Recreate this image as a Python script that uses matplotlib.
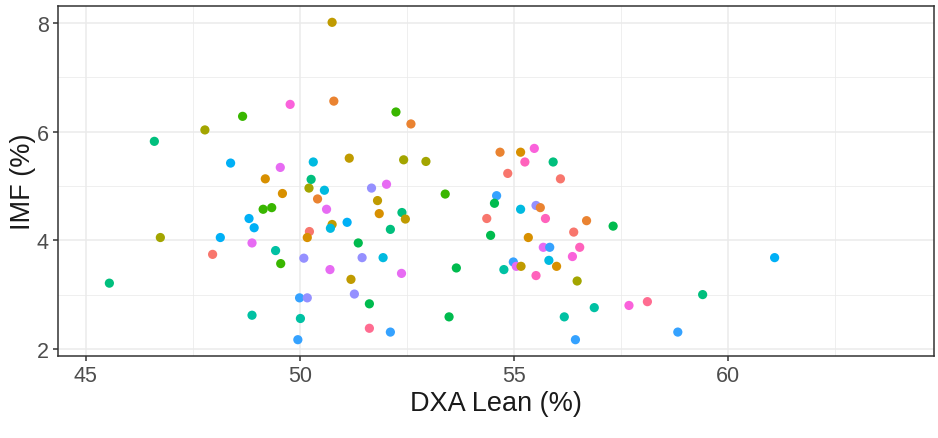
import matplotlib
matplotlib.use("Agg")
import matplotlib.pyplot as plt
from matplotlib.ticker import MultipleLocator

plt.rcParams['font.family'] = ['Liberation Sans', 'DejaVu Sans']

# ggplot hue palette, 20 groups
palette = ["#F8766D", "#EA8331", "#D89000", "#C09B00", "#A3A500",
           "#7CAE00", "#39B600", "#00BB4E", "#00BF7D", "#00C1A3",
           "#00BFC4", "#00BAE0", "#00B0F6", "#35A2FF", "#9590FF",
           "#C77CFF", "#E76BF3", "#FA62DB", "#FF62BC", "#FF6C91"]

lean = [45.55, 46.60, 46.74, 47.78, 47.96, 48.14, 48.38, 48.66, 48.81, 48.93,
        48.88, 49.14, 49.34, 49.19, 49.59, 49.54, 49.77, 49.43, 49.55, 48.88,
        49.99, 50.17, 50.01, 49.95, 50.09, 50.22, 50.17, 50.41, 50.21, 50.26,
        50.31, 50.75, 50.79, 51.15, 50.57, 50.62, 50.75, 50.71, 51.10, 51.67,
        52.02, 51.81, 51.85, 52.24, 52.59, 52.42, 52.94, 52.38, 52.46, 52.11,
        51.36, 51.45, 51.94, 50.70, 52.37, 51.19, 51.27, 51.62, 51.62, 52.11,
        53.39, 53.65, 53.48, 54.59, 54.54, 54.36, 54.45, 54.76, 54.67, 55.15,
        55.47, 55.25, 55.91, 54.85, 56.08, 55.15, 55.51, 55.61, 55.73, 56.69,
        57.31, 55.33, 56.39, 55.68, 55.83, 56.53, 56.36, 55.81, 54.98, 55.05,
        55.16, 55.99, 55.51, 56.47, 56.87, 56.17, 56.43, 57.68, 58.11, 58.82,
        59.40, 61.08]

imf = [3.21, 5.82, 4.05, 6.03, 3.74, 4.05, 5.42, 6.28, 4.40, 4.23,
       3.95, 4.57, 4.60, 5.13, 4.86, 5.34, 6.50, 3.81, 3.57, 2.62,
       2.94, 2.94, 2.56, 2.17, 3.67, 4.16, 4.05, 4.76, 4.96, 5.12,
       5.44, 8.01, 6.56, 5.51, 4.92, 4.57, 4.29, 4.22, 4.33, 4.96,
       5.03, 4.73, 4.49, 6.36, 6.14, 5.48, 5.45, 4.51, 4.39, 4.20,
       3.95, 3.68, 3.68, 3.46, 3.39, 3.28, 3.01, 2.83, 2.38, 2.31,
       4.85, 3.49, 2.59, 4.82, 4.68, 4.40, 4.09, 3.46, 5.62, 5.62,
       5.69, 5.44, 5.44, 5.23, 5.13, 4.57, 4.64, 4.60, 4.40, 4.36,
       4.26, 4.05, 4.15, 3.87, 3.87, 3.87, 3.70, 3.63, 3.60, 3.52,
       3.52, 3.52, 3.35, 3.25, 2.76, 2.59, 2.17, 2.80, 2.87, 2.31,
       3.00, 3.68]

group = [8, 8, 4, 4, 0, 12, 12, 6, 12, 12,
         16, 6, 6, 2, 2, 16, 17, 9, 6, 9,
         13, 14, 9, 13, 14, 0, 2, 1, 4, 8,
         11, 3, 1, 3, 11, 16, 3, 11, 12, 14,
         16, 3, 2, 6, 1, 4, 4, 8, 3, 8,
         7, 14, 11, 16, 16, 3, 14, 7, 19, 13,
         6, 7, 7, 13, 7, 0, 7, 9, 1, 2,
         17, 18, 8, 0, 0, 11, 14, 1, 18, 1,
         7, 2, 0, 16, 13, 18, 17, 11, 13, 16,
         3, 2, 18, 4, 9, 9, 13, 17, 19, 13,
         8, 12]

fig = plt.figure(figsize=(9.38, 4.39), dpi=100)
ax = fig.add_axes([0.0618, 0.1868, 0.9339, 0.7972])

ax.scatter(lean, imf, c=[palette[g] for g in group], s=44, linewidths=0, zorder=3)

ax.set_xlim(44.35, 64.8)
ax.set_ylim(1.87, 8.31)
ax.xaxis.set_major_locator(MultipleLocator(5))
ax.xaxis.set_minor_locator(MultipleLocator(2.5))
ax.yaxis.set_major_locator(MultipleLocator(2))
ax.yaxis.set_minor_locator(MultipleLocator(1))

ax.grid(which="major", color="#EBEBEB", linewidth=1.1, zorder=0)
ax.grid(which="minor", color="#EBEBEB", linewidth=0.55, zorder=0)
ax.set_axisbelow(True)
for s in ax.spines.values():
    s.set_color("#333333")
    s.set_linewidth(1.1)
ax.tick_params(which="major", length=3.5, width=1.1, color="#333333",
               labelcolor="#4D4D4D", labelsize=15.5, pad=3)
ax.tick_params(which="minor", length=0)

ax.set_xlabel("DXA Lean (%)", fontsize=19.5, color="#1A1A1A", labelpad=3)
ax.set_ylabel("IMF (%)", fontsize=19.5, color="#1A1A1A", labelpad=1)

fig.savefig("out.png", dpi=100)
